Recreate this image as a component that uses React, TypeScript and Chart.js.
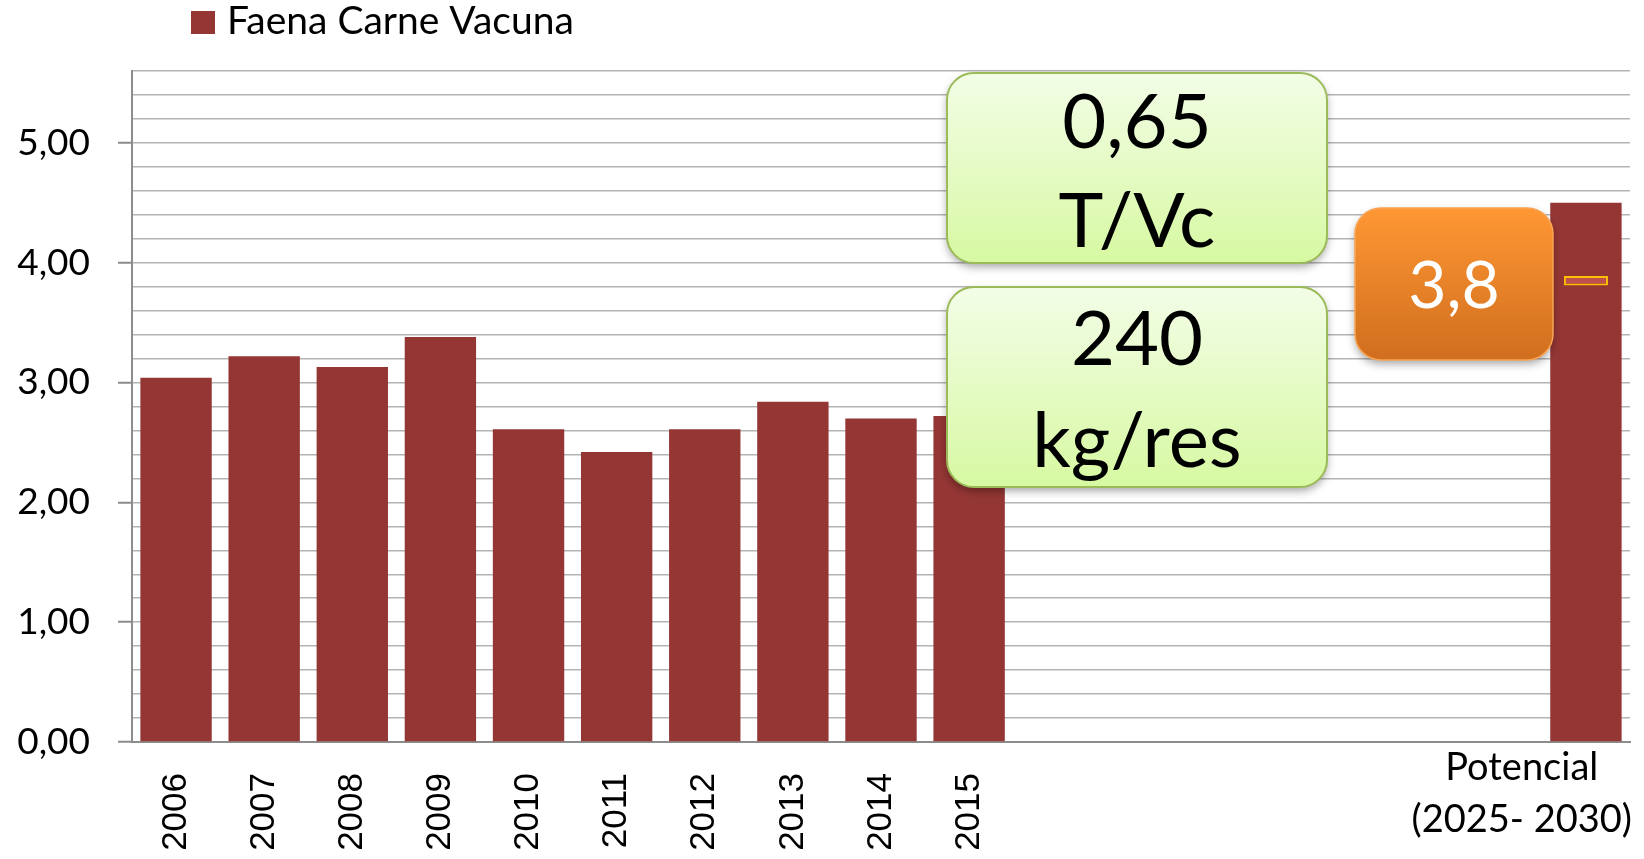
import React, { useEffect, useRef } from 'react';
import { Chart, registerables } from 'chart.js';

Chart.register(...registerables);

// ---------- data ----------
const years = ['2006', '2007', '2008', '2009', '2010', '2011', '2012', '2013', '2014', '2015'];
const yearValues = [3.04, 3.22, 3.13, 3.38, 2.61, 2.42, 2.61, 2.84, 2.70, 2.72];
const gapSlots = ['', '', '', '', '', ''];
const potentialLabelLines = ['Potencial', '(2025- 2030)'];
const potentialValue = 4.5;
const potentialMarkerRange = [3.81, 3.89];
const seriesLabel = 'Faena Carne Vacuna';
const yMin = 0;
const yMax = 5.6;
const yStep = 0.2;
const greenNote1 = ['0,65', 'T/Vc'];
const greenNote2 = ['240', 'kg/res'];
const orangeNote = '3,8';

const categories = [...years, ...gapSlots, potentialLabelLines.join(' ')];
const barValues: (number | null)[] = [...yearValues, ...gapSlots.map(() => null), potentialValue];
const markerValues: (number[] | null)[] = categories.map((_, i) =>
  i === categories.length - 1 ? potentialMarkerRange : null
);

const isInt = (v: number) => Math.abs(v - Math.round(v)) < 1e-6;
const fmt = (v: number) => Math.round(v).toFixed(2).replace('.', ',');

function roundRectPath(ctx: CanvasRenderingContext2D, x: number, y: number, w: number, h: number, r: number) {
  ctx.beginPath();
  ctx.moveTo(x + r, y);
  ctx.arcTo(x + w, y, x + w, y + h, r);
  ctx.arcTo(x + w, y + h, x, y + h, r);
  ctx.arcTo(x, y + h, x, y, r);
  ctx.arcTo(x, y, x + w, y, r);
  ctx.closePath();
}

function drawNote(
  ctx: CanvasRenderingContext2D,
  box: { x: number; y: number; w: number; h: number; r: number },
  top: string,
  bottom: string,
  border: string,
  borderWidth: number
) {
  ctx.save();
  const g = ctx.createLinearGradient(0, box.y, 0, box.y + box.h);
  g.addColorStop(0, top);
  g.addColorStop(1, bottom);
  roundRectPath(ctx, box.x, box.y, box.w, box.h, box.r);
  ctx.shadowColor = 'rgba(0,0,0,0.35)';
  ctx.shadowBlur = 8;
  ctx.shadowOffsetY = 4;
  ctx.fillStyle = g;
  ctx.fill();
  ctx.shadowColor = 'rgba(0,0,0,0)';
  ctx.lineWidth = borderWidth;
  ctx.strokeStyle = border;
  ctx.stroke();
  ctx.restore();
}

const overlayPlugin = {
  id: 'overlay',
  afterDraw(chart: any) {
    const ctx: CanvasRenderingContext2D = chart.ctx;
    const xs = chart.scales.x;

    // legend
    ctx.save();
    ctx.fillStyle = chart.data.datasets[1].backgroundColor;
    ctx.fillRect(191, 11, 24, 23);
    ctx.fillStyle = '#000';
    ctx.font = '39px Lato';
    ctx.textAlign = 'left';
    ctx.textBaseline = 'alphabetic';
    ctx.fillText(chart.data.datasets[1].label, 227, 34);
    ctx.restore();

    // Potencial category label
    ctx.save();
    ctx.font = '38px Lato';
    ctx.fillStyle = '#000';
    ctx.textAlign = 'center';
    ctx.textBaseline = 'alphabetic';
    const px = xs.getPixelForValue(categories.length - 1);
    const maxW = Math.max(...potentialLabelLines.map((l) => ctx.measureText(l).width));
    const cx = Math.min(px, chart.width - 12 - maxW / 2);
    potentialLabelLines.forEach((l, i) => {
      ctx.fillText(l, cx, xs.top + 38 + i * 52);
    });
    ctx.restore();

    // annotation boxes
    const b1 = { x: 947, y: 73, w: 380, h: 190, r: 27 };
    const b2 = { x: 947, y: 287, w: 380, h: 200, r: 27 };
    const b3 = { x: 1355, y: 208, w: 198, h: 152, r: 26 };
    drawNote(ctx, b1, '#F3FDE7', '#D7F9A2', '#9BBB59', 2);
    drawNote(ctx, b2, '#F3FDE7', '#D7F9A2', '#9BBB59', 2);
    drawNote(ctx, b3, '#FF9734', '#D06E1E', '#F9A454', 1.5);

    ctx.save();
    ctx.textAlign = 'center';
    ctx.textBaseline = 'alphabetic';
    ctx.fillStyle = '#000';
    ctx.font = '76px Lato';
    ctx.fillText(greenNote1[0], b1.x + b1.w / 2, b1.y + 75);
    ctx.fillText(greenNote1[1], b1.x + b1.w / 2, b1.y + 174);
    ctx.fillText(greenNote2[0], b2.x + b2.w / 2, b2.y + 78);
    ctx.fillText(greenNote2[1], b2.x + b2.w / 2, b2.y + 180);
    ctx.fillStyle = '#FFFFFF';
    ctx.font = '66px Lato';
    ctx.fillText(orangeNote, b3.x + b3.w / 2, b3.y + 100);
    ctx.restore();
  },
};

export default function App() {
  const canvasRef = useRef<HTMLCanvasElement | null>(null);

  useEffect(() => {
    if (!canvasRef.current) return;
    const chart = new Chart(canvasRef.current, {
      type: 'bar',
      data: {
        labels: categories,
        datasets: [
          {
            label: 'marker',
            data: markerValues as any,
            backgroundColor: '#C0504D',
            borderColor: '#FFC000',
            borderWidth: 2,
            borderSkipped: false,
            grouped: false,
            barPercentage: 0.5,
            categoryPercentage: 1,
            order: 0,
          } as any,
          {
            label: seriesLabel,
            data: barValues,
            backgroundColor: '#943634',
            grouped: false,
            barPercentage: 0.81,
            categoryPercentage: 1,
            order: 1,
          } as any,
        ],
      },
      options: {
        responsive: false,
        animation: false,
        events: [],
        layout: { padding: { top: 71, right: 14, left: 0, bottom: 0 } },
        plugins: {
          legend: { display: false },
          tooltip: { enabled: false },
        },
        scales: {
          x: {
            ticks: {
              autoSkip: false,
              maxRotation: 90,
              minRotation: 90,
              padding: 23,
              color: '#000',
              font: { family: 'Liberation Sans', size: 35 },
              callback: (_v: any, i: number) => (i < years.length ? years[i] : ''),
            },
            grid: { display: false },
            border: { display: true, color: '#8C8C8C', width: 2 },
            afterFit: (s: any) => {
              s.height = 117;
              s.paddingLeft = 0;
              s.paddingRight = 0;
            },
          },
          y: {
            min: yMin,
            max: yMax,
            ticks: {
              stepSize: yStep,
              autoSkip: false,
              padding: 28,
              color: '#000',
              font: { family: 'Lato', size: 37 },
              callback: (v: any) => (isInt(Number(v)) ? fmt(Number(v)) : ''),
            },
            grid: {
              color: '#B4B4B4',
              lineWidth: 1.5,
              drawTicks: true,
              tickLength: 14,
              tickWidth: 2,
              tickColor: (c: any) => (c.tick && isInt(c.tick.value) ? '#8C8C8C' : 'rgba(0,0,0,0)'),
            },
            border: { color: '#8C8C8C', width: 2 },
            afterFit: (s: any) => {
              s.width = 132;
              s.paddingTop = 0;
              s.paddingBottom = 0;
            },
          },
        },
      } as any,
      plugins: [overlayPlugin],
    });
    return () => chart.destroy();
  }, []);

  return (
    <div style={{ position: 'fixed', left: 0, top: 0, width: 1644, height: 859, background: '#fff' }}>
      <canvas ref={canvasRef} width={1644} height={859} style={{ display: 'block' }} />
    </div>
  );
}
